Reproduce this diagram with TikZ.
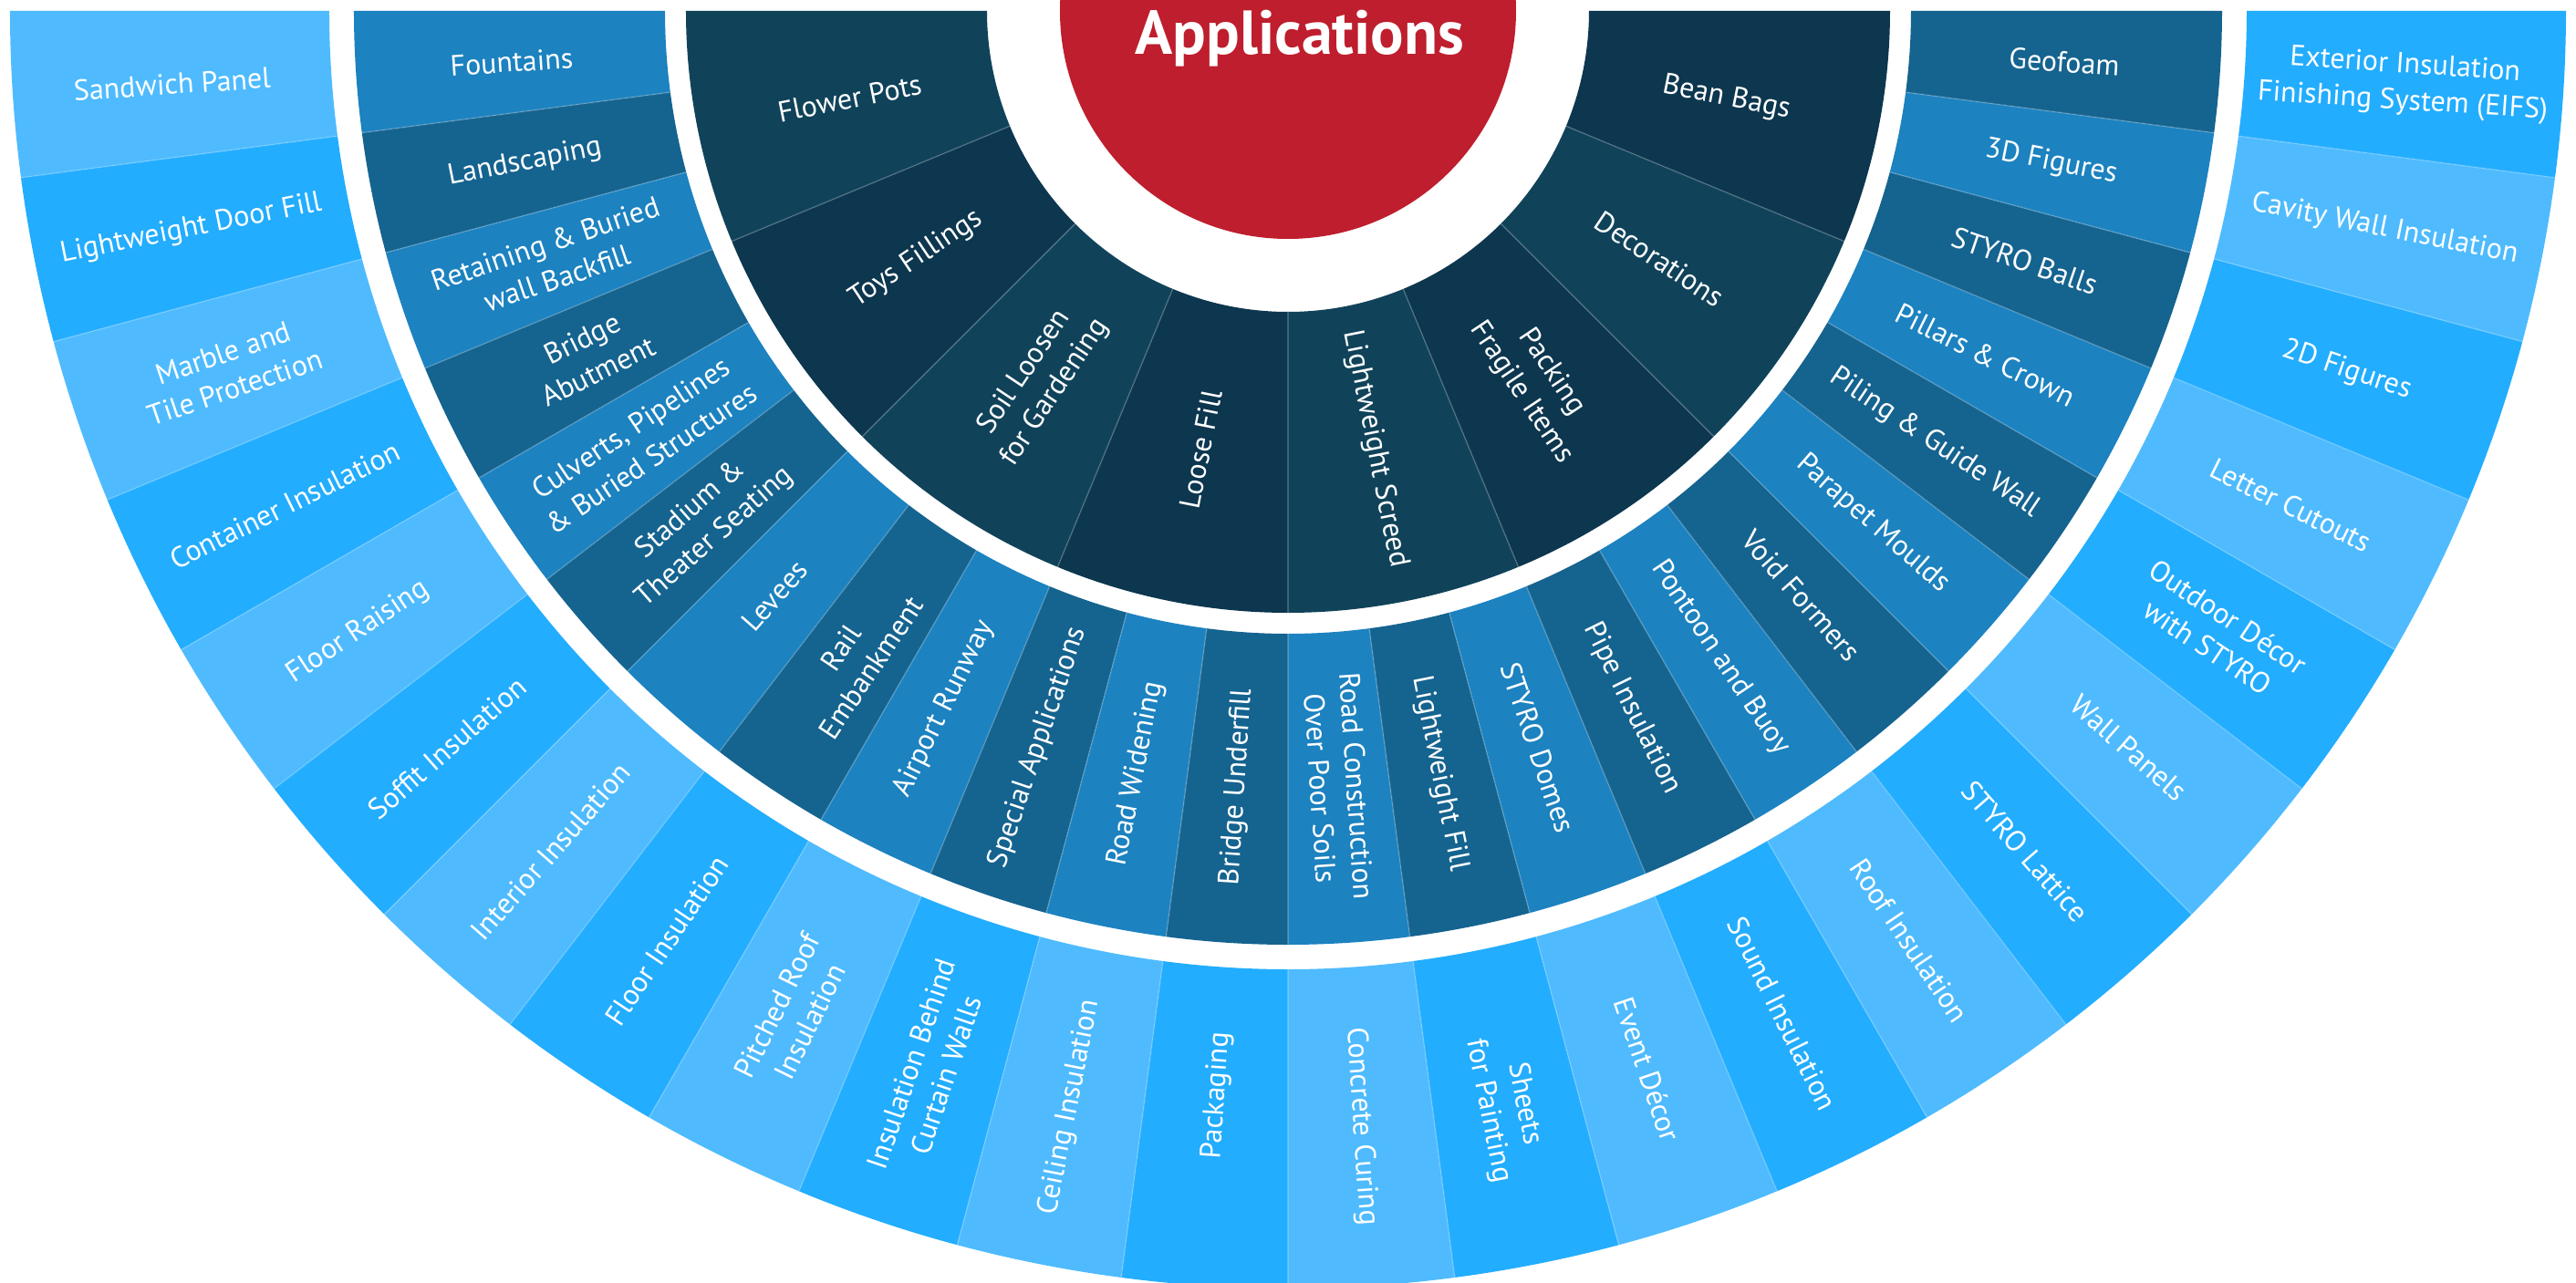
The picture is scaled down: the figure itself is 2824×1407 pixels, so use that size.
\documentclass[tikz,border=0pt]{standalone}
\usepackage{fontspec}
\setmainfont{PT Sans}
\definecolor{redc}{HTML}{BE1E2D}
\definecolor{inA}{HTML}{10435A}
\definecolor{inB}{HTML}{0D364F}
\definecolor{midA}{HTML}{1C82C0}
\definecolor{midB}{HTML}{15638F}
\definecolor{outA}{HTML}{4FBBFE}
\definecolor{outB}{HTML}{23ADFE}
\begin{document}
\begin{tikzpicture}[x=1pt,y=1pt,
  lbl/.style={text=white, align=center, font=\fontsize{32}{40}\selectfont, inner sep=0pt},
  sep/.style={white, opacity=0.2, line width=1.5pt}]
\fill[white] (-1412,-1395) rectangle (1412,12);
\useasboundingbox (-1412,-1395) rectangle (1412,12);
% centre disc
\fill[redc] (0,0) circle[radius=250];
\node[text=white, font=\fontsize{68}{72}\selectfont\bfseries, anchor=base, inner sep=0pt] (title) at (13,-48) {Applications};
% inner ring
\foreach \t [count=\i from 0] in {Flower Pots, Toys Fillings, {Soil Loosen\\for Gardening}, Loose Fill, Lightweight Screed, {Packing\\Fragile Items}, Decorations, Bean Bags}{
  \pgfmathsetmacro\a{180+22.5*\i}
  \pgfmathsetmacro\b{\a+22.5}
  \pgfmathsetmacro\m{\a+11.25}
  \pgfmathsetmacro\rot{\m<270 ? \m-180 : \m-360}
  \pgfmathtruncatemacro\odd{mod(\i,2)}
  \ifnum\odd=0 \def\col{inA}\else\def\col{inB}\fi
  \fill[\col] (\a:330) arc[start angle=\a, end angle=\b, radius=330] -- (\b:660) arc[start angle=\b, end angle=\a, radius=660] -- cycle;
  \node[lbl, rotate=\rot] (in\i) at (\m:490) {\t};
}
% middle ring
\foreach \t [count=\i from 0] in {Fountains, Landscaping, {Retaining \& Buried\\wall Backfill}, {Bridge\\Abutment}, {Culverts, Pipelines\\\& Buried Structures}, {Stadium \&\\Theater Seating}, Levees, {Rail\\Embankment}, Airport Runway, Special Applications, Road Widening, Bridge Underfill, {Road Construction\\Over Poor Soils}, Lightweight Fill, STYRO Domes, Pipe Insulation, Pontoon and Buoy, Void Formers, Parapet Moulds, Piling \& Guide Wall, Pillars \& Crown, STYRO Balls, 3D Figures, Geofoam}{
  \pgfmathsetmacro\a{180+7.5*\i}
  \pgfmathsetmacro\b{\a+7.5}
  \pgfmathsetmacro\m{\a+3.75}
  \pgfmathsetmacro\rot{\m<270 ? \m-180 : \m-360}
  \pgfmathtruncatemacro\odd{mod(\i,2)}
  \ifnum\odd=0 \def\col{midA}\else\def\col{midB}\fi
  \fill[\col] (\a:683) arc[start angle=\a, end angle=\b, radius=683] -- (\b:1024) arc[start angle=\b, end angle=\a, radius=1024] -- cycle;
  \node[lbl, rotate=\rot] (mid\i) at (\m:853) {\t};
}
% outer ring
\foreach \t [count=\i from 0] in {Sandwich Panel, Lightweight Door Fill, {Marble and\\Tile Protection}, Container Insulation, Floor Raising, Soffit Insulation, Interior Insulation, Floor Insulation, {Pitched Roof\\Insulation}, {Insulation Behind\\Curtain Walls}, Ceiling Insulation, Packaging, Concrete Curing, {Sheets\\for Painting}, Event Décor, Sound Insulation, Roof Insulation, STYRO Lattice, Wall Panels, {Outdoor Décor\\with STYRO}, Letter Cutouts, 2D Figures, Cavity Wall Insulation, {Exterior Insulation\\Finishing System (EIFS)}}{
  \pgfmathsetmacro\a{180+7.5*\i}
  \pgfmathsetmacro\b{\a+7.5}
  \pgfmathsetmacro\m{\a+3.75}
  \pgfmathsetmacro\rot{\m<270 ? \m-180 : \m-360}
  \pgfmathtruncatemacro\odd{mod(\i,2)}
  \ifnum\odd=0 \def\col{outA}\else\def\col{outB}\fi
  \ifnum\i=11 \def\rr{1192}\else\def\rr{1226}\fi
  \fill[\col] (\a:1051) arc[start angle=\a, end angle=\b, radius=1051] -- (\b:1401) arc[start angle=\b, end angle=\a, radius=1401] -- cycle;
  \node[lbl, rotate=\rot] (out\i) at (\m:\rr) {\t};
}
% thin separators
\foreach \k in {1,...,7}{\draw[sep] (180+22.5*\k:330) -- (180+22.5*\k:660);}
\foreach \k in {1,...,23}{\draw[sep] (180+7.5*\k:683) -- (180+7.5*\k:1024);
  \draw[sep] (180+7.5*\k:1051) -- (180+7.5*\k:1401);}
\end{tikzpicture}
\end{document}
